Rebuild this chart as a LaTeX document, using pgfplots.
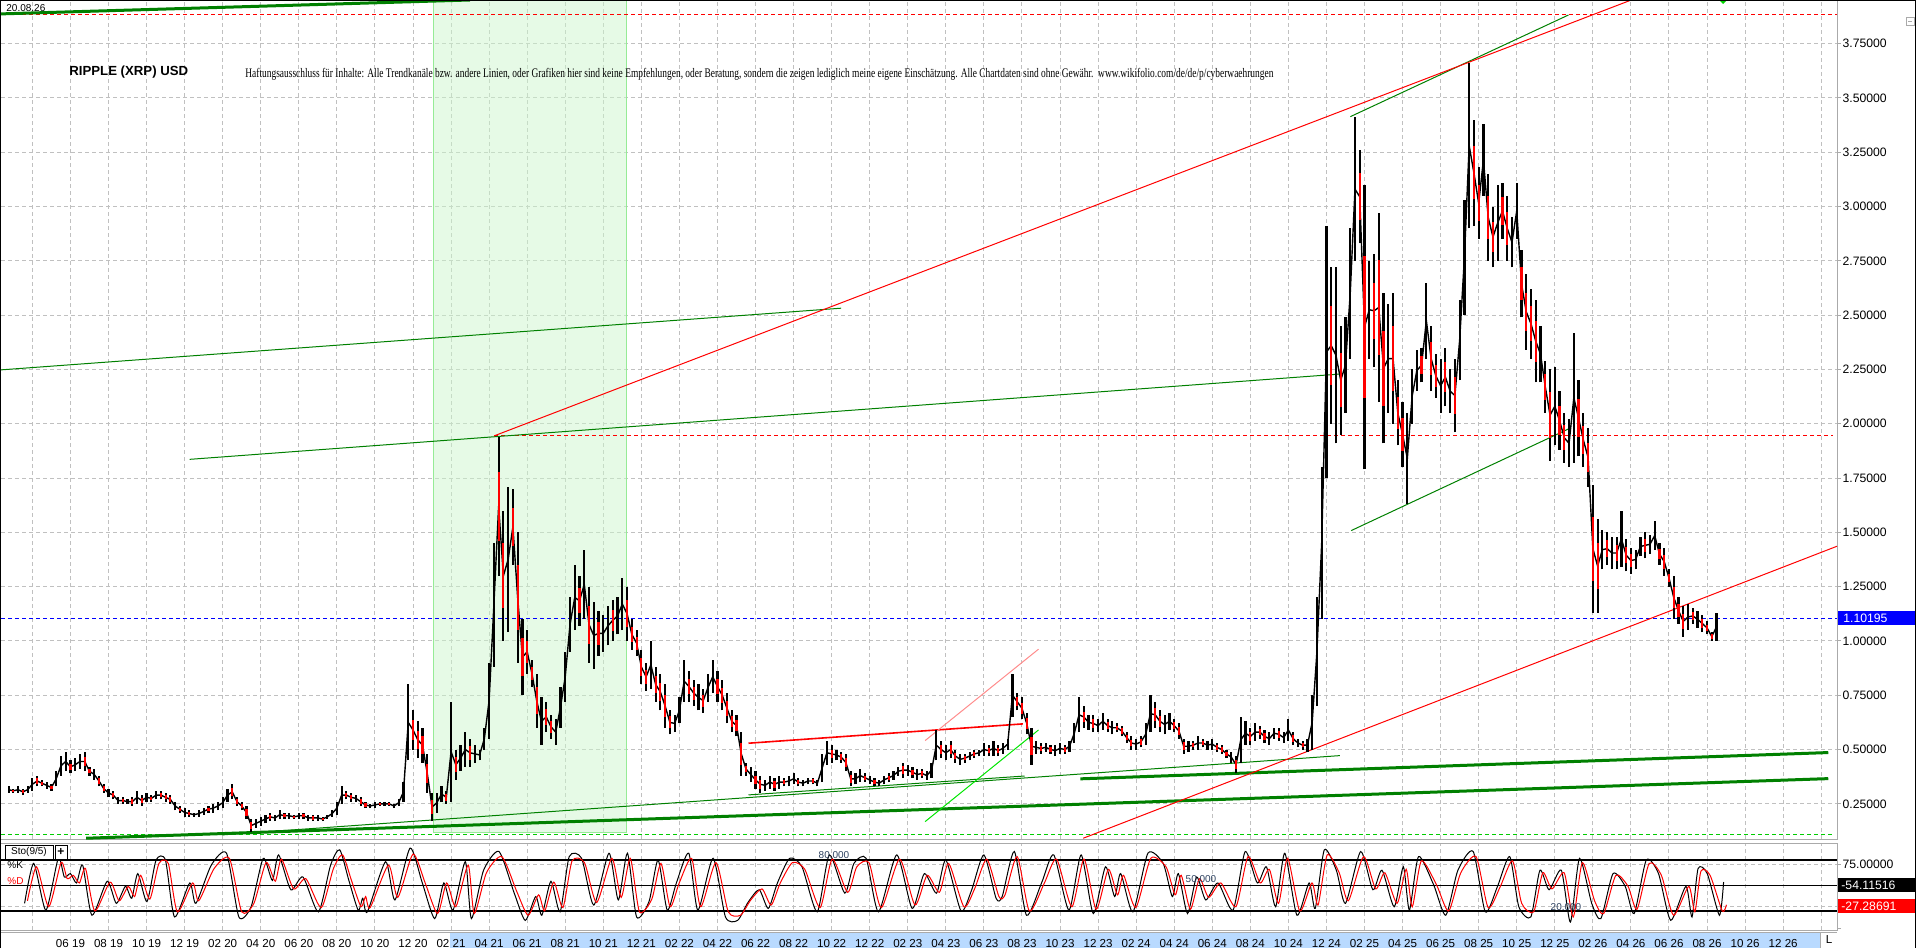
\documentclass[border=0pt]{standalone}
\usepackage{fontspec}
\setmainfont{Liberation Sans}
\newfontfamily\discfont{Liberation Serif}
\usepackage{pgfplots}
\usepackage{pgfplotstable}
\pgfplotsset{compat=1.18}
\definecolor{gridgray}{RGB}{192,192,192}
\definecolor{axgray}{RGB}{170,170,170}
\definecolor{dkgreen}{RGB}{0,128,0}
\definecolor{limeg}{RGB}{0,230,0}
\definecolor{dotgreen}{RGB}{0,204,0}
\definecolor{shadefill}{RGB}{205,246,205}
\definecolor{shadeline}{RGB}{150,235,150}
\definecolor{stripblue}{RGB}{185,218,255}
\definecolor{levtxt}{RGB}{45,65,95}
\definecolor{pinkred}{RGB}{255,140,140}
\definecolor{pxblue}{RGB}{0,0,255}

\pgfplotstableread{
m lo hi c
2.75 0.30 0.33 0
3.00 0.30 0.32 1
3.25 0.30 0.33 0
3.50 0.29 0.32 1
3.75 0.30 0.33 0
4.00 0.31 0.37 0
4.25 0.33 0.38 1
4.50 0.33 0.36 1
4.75 0.32 0.35 0
5.00 0.31 0.34 1
5.25 0.33 0.40 0
5.50 0.38 0.47 0
5.75 0.40 0.49 0
6.00 0.39 0.45 1
6.25 0.40 0.46 0
6.50 0.41 0.48 0
6.75 0.40 0.49 1
7.00 0.38 0.42 1
7.25 0.36 0.41 0
7.50 0.33 0.38 1
7.75 0.30 0.34 1
8.00 0.28 0.32 0
8.25 0.27 0.31 1
8.50 0.25 0.28 0
8.75 0.25 0.28 1
9.00 0.25 0.27 0
9.25 0.24 0.28 1
9.50 0.25 0.31 0
9.75 0.24 0.29 1
10.00 0.26 0.30 0
10.25 0.26 0.29 1
10.50 0.27 0.31 0
10.75 0.27 0.31 1
11.00 0.26 0.30 1
11.25 0.25 0.29 1
11.50 0.22 0.26 0
11.75 0.21 0.24 1
12.00 0.19 0.23 0
12.25 0.19 0.22 1
12.50 0.19 0.21 0
12.75 0.19 0.22 0
13.00 0.20 0.23 0
13.25 0.21 0.24 1
13.50 0.21 0.25 0
13.75 0.22 0.26 0
14.00 0.23 0.28 0
14.25 0.26 0.32 0
14.50 0.27 0.34 1
14.75 0.24 0.28 1
15.00 0.22 0.26 1
15.25 0.18 0.24 1
15.50 0.12 0.18 1
15.75 0.14 0.18 0
16.00 0.15 0.19 0
16.25 0.16 0.20 0
16.50 0.17 0.21 1
16.75 0.17 0.20 0
17.00 0.18 0.22 0
17.25 0.18 0.21 1
17.50 0.18 0.21 0
17.75 0.18 0.20 1
18.00 0.18 0.21 0
18.25 0.18 0.21 1
18.50 0.17 0.20 0
18.75 0.17 0.20 1
19.00 0.17 0.20 0
19.25 0.17 0.19 1
19.50 0.18 0.20 0
19.75 0.19 0.22 0
20.00 0.20 0.26 0
20.25 0.25 0.33 0
20.50 0.27 0.31 1
20.75 0.26 0.30 1
21.00 0.26 0.29 0
21.25 0.24 0.28 1
21.50 0.23 0.26 1
21.75 0.23 0.25 0
22.00 0.23 0.26 0
22.25 0.24 0.26 1
22.50 0.24 0.26 0
22.75 0.24 0.26 1
23.00 0.23 0.25 0
23.25 0.24 0.27 0
23.50 0.26 0.35 0
23.75 0.45 0.80 0
24.00 0.50 0.68 1
24.25 0.46 0.63 1
24.50 0.44 0.60 1
24.75 0.30 0.48 1
25.00 0.17 0.30 1
25.25 0.21 0.30 0
25.50 0.26 0.33 0
25.75 0.25 0.31 1
26.00 0.26 0.72 0
26.25 0.36 0.50 1
26.50 0.40 0.52 0
26.75 0.42 0.58 0
27.00 0.42 0.55 1
27.25 0.44 0.52 0
27.50 0.45 0.50 0
27.75 0.50 0.60 0
28.00 0.55 0.90 0
28.25 0.88 1.45 0
28.50 1.30 1.94 1
28.75 1.00 1.60 1
29.00 1.04 1.71 0
29.25 1.35 1.70 1
29.50 0.90 1.50 1
29.75 0.75 1.10 1
30.00 0.85 1.05 1
30.25 0.79 0.91 1
30.50 0.60 0.85 1
30.75 0.52 0.74 0
31.00 0.58 0.72 1
31.25 0.55 0.66 1
31.50 0.52 0.64 0
31.75 0.60 0.79 0
32.00 0.72 0.95 0
32.25 0.95 1.20 0
32.50 1.05 1.35 0
32.75 1.07 1.30 1
33.00 1.10 1.42 0
33.25 0.90 1.25 1
33.50 0.87 1.18 0
33.75 0.93 1.14 1
34.00 0.95 1.12 0
34.25 0.98 1.16 0
34.50 1.00 1.19 1
34.75 1.03 1.20 0
35.00 1.05 1.29 0
35.25 1.00 1.25 1
35.50 0.96 1.10 1
35.75 0.93 1.05 1
36.00 0.80 0.96 1
36.25 0.77 0.90 1
36.50 0.78 1.00 0
36.75 0.72 0.88 1
37.00 0.68 0.85 1
37.25 0.60 0.80 1
37.50 0.57 0.68 1
37.75 0.58 0.66 0
38.00 0.62 0.74 0
38.25 0.72 0.91 0
38.50 0.72 0.86 1
38.75 0.70 0.82 1
39.00 0.68 0.80 0
39.25 0.67 0.78 1
39.50 0.72 0.85 0
39.75 0.76 0.91 0
40.00 0.72 0.86 1
40.25 0.68 0.82 1
40.50 0.62 0.76 1
40.75 0.58 0.68 1
41.00 0.56 0.66 1
41.25 0.38 0.58 1
41.50 0.38 0.44 1
41.75 0.35 0.42 0
42.00 0.32 0.40 1
42.25 0.30 0.38 1
42.50 0.31 0.36 0
42.75 0.32 0.38 0
43.00 0.31 0.37 1
43.25 0.32 0.38 0
43.50 0.33 0.37 1
43.75 0.33 0.38 0
44.00 0.34 0.39 0
44.25 0.33 0.37 1
44.50 0.33 0.36 0
44.75 0.34 0.37 0
45.00 0.34 0.37 1
45.25 0.33 0.36 0
45.50 0.35 0.48 0
45.75 0.43 0.54 0
46.00 0.44 0.52 1
46.25 0.45 0.50 0
46.50 0.44 0.49 1
46.75 0.40 0.48 1
47.00 0.33 0.40 1
47.25 0.34 0.39 0
47.50 0.35 0.41 0
47.75 0.35 0.39 1
48.00 0.34 0.38 0
48.25 0.33 0.37 1
48.50 0.33 0.36 0
48.75 0.34 0.38 0
49.00 0.35 0.39 1
49.25 0.36 0.40 0
49.50 0.38 0.42 0
49.75 0.37 0.44 1
50.00 0.38 0.43 0
50.25 0.37 0.42 1
50.50 0.36 0.41 0
50.75 0.37 0.41 1
51.00 0.36 0.40 0
51.25 0.37 0.44 0
51.50 0.45 0.59 0
51.75 0.46 0.54 1
52.00 0.45 0.52 0
52.25 0.46 0.54 1
52.50 0.44 0.50 1
52.75 0.43 0.48 0
53.00 0.44 0.48 1
53.25 0.45 0.49 0
53.50 0.46 0.50 1
53.75 0.47 0.50 0
54.00 0.47 0.53 0
54.25 0.47 0.52 1
54.50 0.47 0.54 0
54.75 0.47 0.52 1
55.00 0.48 0.53 0
55.25 0.50 0.55 0
55.50 0.65 0.85 0
55.75 0.68 0.76 1
56.00 0.64 0.74 1
56.25 0.57 0.67 1
56.50 0.43 0.60 1
56.75 0.48 0.54 0
57.00 0.48 0.53 1
57.25 0.49 0.53 0
57.50 0.48 0.52 1
57.75 0.47 0.52 0
58.00 0.48 0.53 0
58.25 0.48 0.52 1
58.50 0.49 0.54 0
58.75 0.53 0.62 0
59.00 0.58 0.74 0
59.25 0.60 0.70 1
59.50 0.59 0.66 0
59.75 0.58 0.66 1
60.00 0.58 0.64 0
60.25 0.59 0.67 0
60.50 0.58 0.64 1
60.75 0.57 0.63 0
61.00 0.58 0.62 1
61.25 0.56 0.61 1
61.50 0.53 0.58 1
61.75 0.50 0.56 1
62.00 0.50 0.55 0
62.25 0.51 0.56 1
62.50 0.52 0.62 0
62.75 0.58 0.75 0
63.00 0.60 0.72 1
63.25 0.58 0.68 1
63.50 0.57 0.66 0
63.75 0.59 0.67 0
64.00 0.58 0.64 1
64.25 0.55 0.62 1
64.50 0.48 0.55 1
64.75 0.49 0.54 0
65.00 0.50 0.54 1
65.25 0.50 0.56 0
65.50 0.51 0.55 1
65.75 0.50 0.54 0
66.00 0.50 0.55 0
66.25 0.49 0.53 1
66.50 0.48 0.52 1
66.75 0.46 0.50 1
67.00 0.44 0.49 0
67.25 0.39 0.47 1
67.50 0.44 0.65 0
67.75 0.52 0.63 0
68.00 0.52 0.60 1
68.25 0.54 0.62 0
68.50 0.55 0.61 1
68.75 0.53 0.59 1
69.00 0.52 0.58 0
69.25 0.55 0.60 0
69.50 0.54 0.60 1
69.75 0.53 0.58 0
70.00 0.54 0.64 0
70.25 0.52 0.58 1
70.50 0.51 0.55 0
70.75 0.50 0.54 1
71.00 0.49 0.55 0
71.25 0.50 0.75 0
71.50 0.70 1.20 0
71.75 1.10 1.80 0
72.00 1.75 2.91 0
72.25 2.00 2.72 1
72.50 1.91 2.72 0
72.75 1.95 2.45 1
73.00 2.05 2.49 0
73.25 2.30 2.90 0
73.50 2.75 3.41 0
73.75 2.83 3.26 1
74.00 1.79 3.10 1
74.25 2.30 2.75 0
74.50 2.26 2.78 1
74.75 2.10 2.97 1
75.00 1.91 2.60 1
75.25 2.05 2.55 0
75.50 2.00 2.60 1
75.75 1.90 2.20 1
76.00 1.80 2.10 1
76.25 1.63 2.05 0
76.50 2.00 2.25 0
76.75 2.15 2.34 0
77.00 2.19 2.35 1
77.25 2.30 2.65 0
77.50 2.15 2.45 1
77.75 2.12 2.32 1
78.00 2.05 2.30 0
78.25 2.08 2.35 1
78.50 2.05 2.25 0
78.75 1.96 2.30 1
79.00 2.20 2.57 0
79.25 2.50 3.03 0
79.50 2.90 3.66 0
79.75 2.91 3.40 1
80.00 2.85 3.18 1
80.25 3.05 3.38 0
80.50 2.75 3.15 1
80.75 2.72 3.00 1
81.00 2.75 3.10 0
81.25 2.85 3.11 1
81.50 2.75 3.05 1
81.75 2.72 2.95 0
82.00 2.85 3.11 0
82.25 2.49 2.80 1
82.50 2.34 2.69 1
82.75 2.30 2.62 1
83.00 2.19 2.57 1
83.25 2.19 2.45 0
83.50 2.05 2.29 1
83.75 1.83 2.25 1
84.00 1.90 2.26 0
84.25 1.88 2.15 1
84.50 1.82 2.05 1
84.75 1.80 2.02 0
85.00 1.82 2.42 0
85.25 1.85 2.20 1
85.50 1.80 2.05 1
85.75 1.71 1.98 1
86.00 1.13 1.72 1
86.25 1.13 1.56 1
86.50 1.33 1.51 0
86.75 1.35 1.50 1
87.00 1.33 1.48 0
87.25 1.33 1.48 1
87.50 1.34 1.60 0
87.75 1.32 1.47 1
88.00 1.31 1.43 1
88.25 1.33 1.42 0
88.50 1.39 1.48 0
88.75 1.38 1.50 1
89.00 1.40 1.49 0
89.25 1.42 1.55 0
89.50 1.35 1.45 1
89.75 1.30 1.43 1
90.00 1.25 1.33 1
90.25 1.10 1.30 1
90.50 1.08 1.20 1
90.75 1.02 1.16 1
91.00 1.05 1.17 0
91.25 1.08 1.15 1
91.50 1.06 1.14 0
91.75 1.04 1.12 1
92.00 1.03 1.09 1
92.25 1.00 1.04 1
92.50 1.00 1.13 0
}\price

\pgfplotstableread{
m k d
3.59 29 32
4.07 76 72
4.71 21 25
5.36 82 77
5.68 60 58
6.00 64 62
6.32 53 53
6.64 74 70
7.13 15 20
7.93 55 54
8.41 29 32
8.89 49 49
9.22 35 37
9.54 64 62
10.02 31 34
10.50 80 76
10.99 80 76
11.47 13 19
12.27 53 53
12.59 29 32
13.40 74 70
14.20 88 82
14.85 13 19
15.49 25 29
16.13 82 77
16.61 56 55
16.94 86 81
17.58 45 46
18.22 60 58
19.03 19 24
19.67 74 70
20.15 92 86
20.63 56 55
21.12 21 25
21.36 35 37
21.60 19 24
22.56 78 74
23.05 33 36
23.85 94 87
24.49 53 53
25.14 11 17
25.62 53 53
26.10 21 25
26.75 78 74
27.07 11 17
27.71 68 65
28.52 90 84
29.32 41 42
29.90 9 15
30.45 37 39
30.77 15 20
31.25 55 54
31.73 19 24
32.21 84 79
32.86 82 77
33.50 27 30
34.30 88 82
34.79 33 36
35.27 88 82
35.75 13 19
36.40 31 34
36.88 80 76
37.36 21 25
37.84 53 53
38.49 88 82
38.97 21 25
39.77 82 77
40.42 13 19
41.06 9 15
41.60 30 33
42.19 45 46
42.67 23 27
43.15 53 53
43.79 82 77
44.44 72 69
45.24 19 24
45.88 86 81
46.69 41 42
47.17 76 72
47.81 82 77
48.46 19 24
49.42 86 81
50.23 23 27
50.87 64 62
51.51 41 42
52.00 80 76
52.80 20 25
53.36 45 46
54.00 86 81
54.64 35 37
54.96 37 39
55.60 90 84
56.24 15 20
57.03 53 53
57.67 86 81
58.47 21 25
59.11 86 81
59.75 17 22
60.39 72 69
60.87 37 39
61.19 64 62
61.83 19 24
62.62 88 82
63.42 76 72
63.90 37 39
64.22 64 62
64.70 17 22
65.18 60 58
65.66 33 36
66.30 53 53
67.09 21 25
67.73 90 84
68.37 53 53
68.85 72 69
69.33 25 29
69.81 88 82
70.45 15 20
71.09 53 53
71.41 23 27
71.89 92 86
72.52 68 65
73.00 29 32
73.80 90 84
74.44 45 46
74.92 68 65
75.56 25 29
76.04 72 69
76.36 21 25
76.84 84 79
77.63 51 51
78.27 15 20
78.91 68 65
79.71 90 84
80.35 19 24
80.99 49 49
81.63 84 79
82.11 25 29
82.74 13 19
83.22 68 65
83.70 45 46
84.34 68 65
84.82 7 13
85.30 82 77
85.94 29 32
86.42 11 17
87.06 64 62
87.70 49 49
88.17 17 22
88.81 80 76
89.45 64 62
90.09 9 15
90.89 49 49
91.21 13 19
91.53 70 67
92.01 64 62
92.65 15 20
92.87 54.1 27.3
}\stoch

\begin{document}
\begin{tikzpicture}
\useasboundingbox (0,0) rectangle (958pt,474pt);
% bottom date strip background
\begin{scope}[x=0.5pt,y=-0.5pt,shift={(0pt,474pt)}]
  \fill[stripblue] (450,933) rectangle (1820,947.5);
  \draw[axgray,line width=0.5pt] (0,932.5) -- (1837,932.5);
  \draw[axgray,line width=0.5pt] (1820,933) -- (1820,948);
\end{scope}

% ---------------- main price panel ----------------
\begin{axis}[
  at={(0.5pt,54.5pt)}, anchor=south west,
  scale only axis, width=918pt, height=419.5pt,
  xmin=2.35, xmax=98.83, ymin=0.088, ymax=3.951,
  axis line style={axgray, line width=0.5pt},
  xtick={4,6,...,98}, xticklabels={},
  xtick style={draw=none},
  ytick={0.25,0.5,...,3.75},
  ytick pos=right, yticklabel pos=right,
  tick align=outside, major tick length=2pt,
  ytick style={axgray, line width=0.5pt},
  grid=major,
  major grid style={gridgray, line width=0.5pt, dash pattern=on 2pt off 1.5pt},
  yticklabel style={font=\fontsize{6.1}{7}\selectfont, inner sep=0.6pt,
    /pgf/number format/fixed, /pgf/number format/fixed zerofill,
    /pgf/number format/precision=5, /pgf/number format/assume math mode=true},
]
\fill[shadefill, fill opacity=0.5] (axis cs:25.06,0.119) rectangle (axis cs:35.23,3.96);
\draw[shadeline, line width=0.5pt] (axis cs:25.06,3.96) -- (axis cs:25.06,0.119) -- (axis cs:35.23,0.119) -- (axis cs:35.23,3.96);

% horizontal level lines
\addplot[red, line width=0.5pt, dash pattern=on 2pt off 1.5pt] coordinates {(2.35,3.885) (98.83,3.885)};
\addplot[red, line width=0.5pt, dash pattern=on 2pt off 1.5pt] coordinates {(28.26,1.944) (98.6,1.944)};
\addplot[pxblue, line width=0.5pt, dash pattern=on 2pt off 1.5pt] coordinates {(2.35,1.10195) (98.83,1.10195)};
\addplot[dotgreen, line width=0.5pt, dash pattern=on 2pt off 1.5pt] coordinates {(2.35,0.111) (98.6,0.111)};

% thick green support lines
\addplot[dkgreen, line width=1.5pt] coordinates {(6.82,0.0915) (98.37,0.366)};
\addplot[dkgreen, line width=1.5pt] coordinates {(59.07,0.365) (98.37,0.486)};
\addplot[dkgreen, line width=1.5pt] coordinates {(2.35,3.887) (27.0,3.951)};

% thin green trend lines
\addplot[dkgreen, line width=0.5pt] coordinates {(12.26,1.836) (72.74,2.229)};
\addplot[dkgreen, line width=0.5pt] coordinates {(2.35,2.248) (46.5,2.532)};
\addplot[dkgreen, line width=0.5pt] coordinates {(73.26,3.414) (84.72,3.882)};
\addplot[dkgreen, line width=0.5pt] coordinates {(73.30,1.508) (84.79,1.979)};
\addplot[dkgreen, line width=0.5pt] coordinates {(14.0,0.107) (72.71,0.472)};
\addplot[dkgreen, line width=0.5pt] coordinates {(41.63,0.291) (56.14,0.378)};
\addplot[limeg, line width=0.5pt] coordinates {(50.91,0.168) (56.87,0.590)};

% red trend lines
\addplot[red, line width=0.5pt] coordinates {(28.26,1.944) (88.02,3.951)};
\addplot[red, line width=0.5pt] coordinates {(59.22,0.0915) (98.83,1.436)};
\addplot[red, line width=0.8pt] coordinates {(41.63,0.529) (56.05,0.618)};
\addplot[pinkred, line width=0.5pt] coordinates {(50.91,0.541) (56.87,0.962)};

% price: connecting line, high-low wicks, red bodies on falling bars
\addplot[black, line width=0.7pt, no markers] table[x=m, y expr=0.5*(\thisrow{lo}+\thisrow{hi})] {\price};
\addplot[black, line width=1.1pt, no markers,
  quiver={u=0, v=\thisrow{hi}-\thisrow{lo}}] table[x=m, y=lo] {\price};
\addplot[red, line width=1.1pt, no markers,
  quiver={u=0, v=0.5*(\thisrow{hi}-\thisrow{lo})},
  restrict expr to domain={\thisrow{c}}{0.5:1.5}] table[x=m, y expr=\thisrow{lo}+0.25*(\thisrow{hi}-\thisrow{lo})] {\price};
\end{axis}

% ---------------- stochastic panel ----------------
\begin{axis}[
  at={(0.5pt,9pt)}, anchor=south west,
  scale only axis, width=918pt, height=43.5pt,
  xmin=2.35, xmax=98.83, ymin=-2.35, ymax=100,
  axis line style={axgray, line width=0.5pt},
  xtick={4,6,...,98},
  xticklabels={{},06 19,08 19,10 19,12 19,02 20,04 20,06 20,08 20,10 20,12 20,02 21,04 21,06 21,08 21,10 21,12 21,02 22,04 22,06 22,08 22,10 22,12 22,02 23,04 23,06 23,08 23,10 23,12 23,02 24,04 24,06 24,08 24,10 24,12 24,02 25,04 25,06 25,08 25,10 25,12 25,02 26,04 26,06 26,08 26,10 26,12 26,{}},
  xtick style={draw=none},
  xticklabel style={font=\fontsize{5.8}{7}\selectfont, anchor=center, yshift=-4.75pt},
  ytick={25,50,75}, yticklabels={{},{},75.00000},
  extra y ticks={0}, extra y tick labels={}, extra y tick style={grid=none},
  ytick pos=right, yticklabel pos=right,
  tick align=outside, major tick length=2pt,
  ytick style={axgray, line width=0.5pt},
  grid=major,
  major grid style={gridgray, line width=0.5pt, dash pattern=on 2pt off 1.5pt},
  yticklabel style={font=\fontsize{6.1}{7}\selectfont, inner sep=0.6pt},
]
\addplot[black, line width=0.9pt] coordinates {(2.35,80) (98.83,80)};
\addplot[black, line width=0.9pt] coordinates {(2.35,50) (98.83,50)};
\addplot[black, line width=0.9pt] coordinates {(2.35,20) (98.83,20)};
\addplot[black, line width=0.5pt, smooth, tension=0.4] table[x=m, y=k] {\stoch};
\addplot[red, line width=0.5pt, smooth, tension=0.4] table[x expr=\thisrow{m}+0.15, y=d] {\stoch};
\end{axis}

% ---------------- overlays (image pixel coordinates) ----------------
\begin{scope}[x=0.5pt,y=-0.5pt,shift={(0pt,474pt)}]
  \node[anchor=west, inner sep=0, font=\bfseries\fontsize{6.6}{7}\selectfont] at (69,72) {RIPPLE (XRP) USD};
  \node[anchor=base west, inner sep=0] at (245,78) {\resizebox{514pt}{4.6pt}{\discfont Haftungsausschluss für Inhalte: Alle Trendkanäle bzw. andere Linien, oder Grafiken hier sind keine Empfehlungen, oder Beratung, sondern die zeigen lediglich meine eigene Einschätzung. Alle Chartdaten sind ohne Gewähr.\ \ www.wikifolio.com/de/de/p/cyberwaehrungen}};
  \node[anchor=west, inner sep=0, font=\fontsize{5}{6}\selectfont] at (6,8.5) {20.08.26};
  % current price box
  \fill[pxblue] (1838,611) rectangle (1916,625);
  \node[anchor=west, inner sep=0, text=white, font=\fontsize{6.1}{7}\selectfont] at (1843,618) {1.10195};
  % stochastic value boxes
  \fill[black] (1838,878) rectangle (1916,892);
  \node[anchor=west, inner sep=0, text=white, font=\fontsize{6.1}{7}\selectfont] at (1841,885) {-54.11516};
  \fill[red] (1838,899) rectangle (1916,913);
  \node[anchor=west, inner sep=0, text=white, font=\fontsize{6.1}{7}\selectfont] at (1841,906) {-27.28691};
  % stochastic labels
  \draw[black, fill=white, line width=0.5pt] (5,845) rectangle (53,859);
  \node[inner sep=0, font=\fontsize{5}{6}\selectfont] at (29,852) {Sto(9/5)};
  \draw[black, fill=white, line width=0.5pt] (55,845) rectangle (67,859);
  \node[inner sep=0, font=\bfseries\fontsize{6}{6}\selectfont] at (61,852) {+};
  \node[anchor=west, inner sep=0, font=\fontsize{5}{6}\selectfont] at (7,865) {\%K};
  \node[anchor=west, inner sep=0, text=red, font=\fontsize{5}{6}\selectfont] at (7,881) {\%D};
  \node[inner sep=0, text=levtxt, font=\fontsize{5}{6}\selectfont] at (834,855) {80.000};
  \node[inner sep=0, text=levtxt, font=\fontsize{5}{6}\selectfont] at (1201,879) {50.000};
  \node[inner sep=0, text=levtxt, font=\fontsize{5}{6}\selectfont] at (1566,907) {20.000};
  \node[inner sep=0, font=\fontsize{5.8}{7}\selectfont] at (1829,940) {L};
  % marker and small box
  \fill[limeg!80!dkgreen] (1719,0) -- (1727,0) -- (1723,4) -- cycle;
  \draw[axgray, line width=0.5pt] (1906,18) rectangle (1914,26);
  \draw[axgray, line width=0.5pt] (1908,22) -- (1912,22);
  % frame
  \draw[black, line width=0.8pt] (0.5,948) -- (0.5,0.5) -- (1915.5,0.5) -- (1915.5,948);
\end{scope}
\end{tikzpicture}
\end{document}
